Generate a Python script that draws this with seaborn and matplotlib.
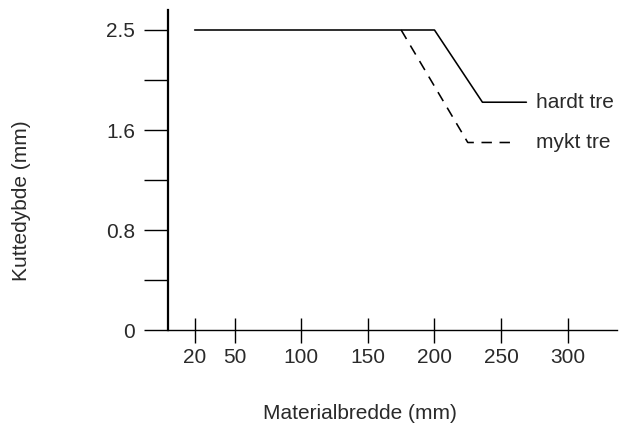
import numpy as np
import pandas as pd
import matplotlib
matplotlib.use("Agg")
import matplotlib.pyplot as plt
import seaborn as sns
from matplotlib.ticker import FixedLocator, FixedFormatter, NullFormatter

# values
hardt_x = [20, 200, 236, 269]
hardt_y = [2.5, 2.5, 1.85, 1.85]
mykt_x = [175, 225, 257]
mykt_y = [2.5, 1.5, 1.5]
series_names = ['hardt tre', 'mykt tre']
x_ticks = [20, 50, 100, 150, 200, 250, 300]
y_ticks = [0, 0.8, 1.6, 2.5]
y_labels = ['0', '0.8', '1.6', '2.5']

TEXT = '#2a2a2a'
LABEL_X = 276

def main():
    sns.set_style('ticks')
    plt.rcParams['font.family'] = ['Liberation Sans', 'DejaVu Sans']
    plt.rcParams['lines.scale_dashes'] = False

    df = pd.concat([
        pd.DataFrame({'x': hardt_x, 'y': hardt_y, 'tre': series_names[0]}),
        pd.DataFrame({'x': mykt_x, 'y': mykt_y, 'tre': series_names[1]}),
    ], ignore_index=True)

    fig = plt.figure(figsize=(6.23, 4.29), dpi=100)
    ax = fig.add_axes([168 / 623, 99 / 429, 449 / 623, 320 / 429])

    # y labels are evenly spaced although the values are not
    vals = [-0.8] + y_ticks + [3.4]
    idx = [-1, 0, 1, 2, 3, 4]
    fwd = lambda v: np.interp(v, vals, idx)
    inv = lambda p: np.interp(p, idx, vals)
    ax.set_yscale('function', functions=(fwd, inv))

    sns.lineplot(data=df, x='x', y='y', style='tre', sort=False,
                 dashes={'hardt tre': '', 'mykt tre': (7.5, 5.5)},
                 color='black', linewidth=1.15, legend=False, ax=ax)

    for name, xs, ys in [(series_names[0], hardt_x, hardt_y), (series_names[1], mykt_x, mykt_y)]:
        ax.text(LABEL_X, ys[-1], name, ha='left', va='center', fontsize=15, color=TEXT)

    ax.set_xlim(0, 337)
    ax.set_ylim(0, float(inv(3.2)))

    ax.xaxis.set_major_locator(FixedLocator(x_ticks))
    ax.yaxis.set_major_locator(FixedLocator(y_ticks))
    ax.yaxis.set_major_formatter(FixedFormatter(y_labels))
    ax.yaxis.set_minor_locator(FixedLocator(list(inv(np.array([0.5, 1.5, 2.5])))))
    ax.yaxis.set_minor_formatter(NullFormatter())
    ax.xaxis.set_minor_locator(FixedLocator([]))

    ax.tick_params(axis='y', which='both', direction='out', length=17.5, width=1.0,
                   color='black', labelsize=15, labelcolor=TEXT, pad=6)
    ax.tick_params(axis='x', which='major', direction='inout', length=18, width=1.0,
                   color='black', labelsize=15, labelcolor=TEXT, pad=4)

    sns.despine(ax=ax)
    ax.spines['left'].set_linewidth(1.6)
    ax.spines['bottom'].set_linewidth(1.0)
    ax.spines['left'].set_color('black')
    ax.spines['bottom'].set_color('black')

    ax.set_xlabel('Materialbredde (mm)', fontsize=15, color=TEXT, va='center')
    ax.set_ylabel('Kuttedybde (mm)', fontsize=15, color=TEXT, va='center')
    ax.xaxis.set_label_coords(0.428, -0.26)
    ax.yaxis.set_label_coords(-0.327, 0.405)

    fig.savefig('out.png', dpi=100)
    plt.close(fig)

if __name__ == '__main__':
    main()
